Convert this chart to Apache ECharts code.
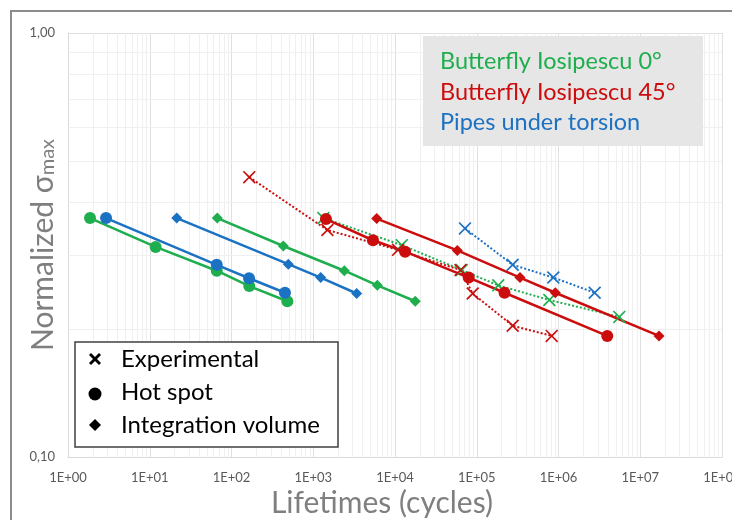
<!DOCTYPE html>
<html>
<head>
<meta charset="utf-8">
<script src="https://cdn.jsdelivr.net/npm/echarts@6/dist/echarts.min.js"></script>
<style>
  html, body { margin: 0; padding: 0; background: #ffffff; }
  #chart { width: 732px; height: 520px; }
</style>
</head>
<body>
<div id="chart"></div>
<script>
// Fatigue results: lifetime (cycles) against normalized max stress.
// Each pair is [cycles, normalized sigma_max].
const green0HotSpot   = [[1.86, 0.366], [11.8, 0.313], [66, 0.275], [165, 0.253], [482, 0.233]];
const green0Volume    = [[67, 0.366], [430, 0.3145], [2400, 0.275], [6080, 0.254], [17700, 0.233]];
const green0Exp       = [[1330, 0.366], [12100, 0.316], [65500, 0.276], [183500, 0.254], [772000, 0.2346], [5540000, 0.214]];

const red45HotSpot    = [[1430, 0.364], [5380, 0.3245], [13300, 0.305], [79700, 0.265], [218500, 0.244], [3950000, 0.193]];
const red45Volume     = [[5970, 0.365], [57800, 0.307], [338000, 0.265], [914000, 0.244], [16960000, 0.193]];
const red45Exp        = [[165, 0.457], [1490, 0.343], [10900, 0.308], [63300, 0.276], [89200, 0.243], [275000, 0.204], [826000, 0.193]];

const pipesHotSpot    = [[2.92, 0.366], [66, 0.284], [164, 0.264], [451, 0.244]];
const pipesVolume     = [[21.4, 0.366], [495, 0.285], [1233, 0.265], [3400, 0.243]];
const pipesExp        = [[71800, 0.346], [275000, 0.284], [864000, 0.265], [2770000, 0.244]];

const xTickLabels = ['1E+00', '1E+01', '1E+02', '1E+03', '1E+04', '1E+05', '1E+06', '1E+07', '1E+08'];
const yTickLabels = ['0,10', '1,00'];

const seriesNames = ['Butterfly Iosipescu 0°', 'Butterfly Iosipescu 45°', 'Pipes under torsion'];
const markerNames = ['Experimental', 'Hot spot', 'Integration volume'];

const GREEN = '#1eae4e';
const RED = '#cc0d0d';
const BLUE = '#1c72c2';
const FONT = 'Lato, "Open Sans", sans-serif';

// Cross marker as a filled outline so it renders with a single fill colour.
const CROSS = 'path://M0,9L9,0L50,41L91,0L100,9L59,50L100,91L91,100L50,59L9,100L0,91L41,50Z';

// Minor gridline positions (2..9 within each decade).
const xMinor = [];
for (let d = 0; d < 8; d++) for (let m = 2; m <= 9; m++) xMinor.push(m * Math.pow(10, d));
const yMinor = [0.2, 0.3, 0.4, 0.5, 0.6, 0.7, 0.8, 0.9];

function solid(name, data, color, symbol, size) {
  return {
    name, type: 'line', data, symbol, symbolSize: size, z: 3,
    lineStyle: { color, width: 2.5, type: 'solid' },
    itemStyle: { color },
    animation: false
  };
}
function dotted(name, data, color) {
  return {
    name, type: 'line', data, symbol: CROSS, symbolSize: 13, z: 3,
    lineStyle: { color, width: 2, type: [2, 2] },
    itemStyle: { color },
    animation: false
  };
}

// small cross for the marker key, centred on (cx, cy)
function crossPoints(cx, cy, h, t) {
  return [
    [cx - h, cy - h + t], [cx - h + t, cy - h], [cx, cy - t], [cx + h - t, cy - h], [cx + h, cy - h + t],
    [cx + t, cy], [cx + h, cy + h - t], [cx + h - t, cy + h], [cx, cy + t], [cx - h + t, cy + h],
    [cx - h, cy + h - t], [cx - t, cy]
  ];
}

function keyText(x, y, text, color, size) {
  return { type: 'text', silent: true, z: 11, x, y,
    style: { text, fill: color, font: size + 'px ' + FONT, verticalAlign: 'middle' } };
}

const chart = echarts.init(document.getElementById('chart'), null, { renderer: 'canvas' });

chart.setOption({
  animation: false,
  backgroundColor: '#ffffff',
  grid: { left: 68, right: 10, top: 33, bottom: 63, containLabel: false, outerBoundsMode: 'none' },
  xAxis: {
    type: 'log', logBase: 10, min: 1, max: 1e8,
    name: 'Lifetimes (cycles)', nameLocation: 'middle', nameGap: 31, nameMoveOverlap: false,
    nameTextStyle: { color: '#7f7f7f', fontSize: 30, fontFamily: FONT, verticalAlign: 'top', padding: [0, 26, 0, 0] },
    axisLine: { show: true, lineStyle: { color: '#d9d9d9', width: 1 } },
    axisTick: { show: false },
    axisLabel: {
      color: '#595959', fontSize: 13, fontFamily: FONT, margin: 14,
      formatter: v => xTickLabels[Math.round(Math.log10(v))]
    },
    splitLine: { show: true, lineStyle: { color: '#e0e0e0', width: 1 } }
  },
  yAxis: {
    type: 'log', logBase: 10, min: 0.1, max: 1,
    name: '{a|Normalized σ}{b|max}', nameLocation: 'middle', nameGap: 10, nameRotate: 90, nameMoveOverlap: false,
    nameTextStyle: {
      color: '#7f7f7f', fontSize: 30, fontFamily: FONT,
      rich: {
        a: { color: '#7f7f7f', fontSize: 30, fontFamily: FONT, lineHeight: 36, verticalAlign: 'bottom' },
        b: { color: '#7f7f7f', fontSize: 20, fontFamily: FONT, lineHeight: 36, verticalAlign: 'bottom', padding: [14, 0, 0, 0] }
      }
    },
    axisLine: { show: true, lineStyle: { color: '#d9d9d9', width: 1 } },
    axisTick: { show: false },
    axisLabel: {
      color: '#595959', fontSize: 13, fontFamily: FONT, margin: 13,
      formatter: v => (v < 0.5 ? yTickLabels[0] : yTickLabels[1])
    },
    splitLine: { show: true, lineStyle: { color: '#e0e0e0', width: 1 } }
  },
  series: [
    {
      type: 'custom', name: 'minor grid', z: 1, silent: true,
      data: xMinor.map(v => [v, 0]).concat(yMinor.map(v => [v, 1])),
      renderItem: (params, api) => {
        const v = api.value(0);
        const isX = api.value(1) === 0;
        const p1 = isX ? api.coord([v, 0.1]) : api.coord([1, v]);
        const p2 = isX ? api.coord([v, 1]) : api.coord([1e8, v]);
        return {
          type: 'line',
          shape: { x1: Math.round(p1[0]) + 0.5, y1: Math.round(p1[1]) + 0.5, x2: Math.round(p2[0]) + 0.5, y2: Math.round(p2[1]) + 0.5 },
          style: { stroke: '#f0f0f0', lineWidth: 1 }
        };
      },
      animation: false
    },
    solid(seriesNames[0] + ' ' + markerNames[1], green0HotSpot, GREEN, 'circle', 12),
    solid(seriesNames[2] + ' ' + markerNames[1], pipesHotSpot, BLUE, 'circle', 12),
    solid(seriesNames[2] + ' ' + markerNames[2], pipesVolume, BLUE, 'diamond', 11),
    solid(seriesNames[0] + ' ' + markerNames[2], green0Volume, GREEN, 'diamond', 11),
    dotted(seriesNames[2] + ' ' + markerNames[0], pipesExp, BLUE),
    dotted(seriesNames[0] + ' ' + markerNames[0], green0Exp, GREEN),
    dotted(seriesNames[1] + ' ' + markerNames[0], red45Exp, RED),
    solid(seriesNames[1] + ' ' + markerNames[1], red45HotSpot, RED, 'circle', 12),
    solid(seriesNames[1] + ' ' + markerNames[2], red45Volume, RED, 'diamond', 11)
  ],
  graphic: [
    // outer chart frame
    { type: 'rect', silent: true, z: 0, shape: { x: 11, y: 11, width: 740, height: 540 },
      style: { fill: 'none', stroke: '#8c8c8c', lineWidth: 2 } },
    // colour key, top right
    { type: 'rect', silent: true, z: 10, shape: { x: 423, y: 36, width: 280, height: 110 },
      style: { fill: '#e7e6e6' } },
    keyText(440, 61, seriesNames[0], GREEN, 23.5),
    keyText(440, 92, seriesNames[1], RED, 23.5),
    keyText(440, 122, seriesNames[2], BLUE, 23.5),
    // marker key, bottom left
    { type: 'rect', silent: true, z: 10, shape: { x: 75, y: 342, width: 263, height: 105 },
      style: { fill: '#ffffff', stroke: '#404040', lineWidth: 1.5 } },
    { type: 'polygon', silent: true, z: 11, shape: { points: crossPoints(95, 359, 6, 2) }, style: { fill: '#000000' } },
    { type: 'circle', silent: true, z: 11, shape: { cx: 95, cy: 394, r: 6.5 }, style: { fill: '#000000' } },
    { type: 'polygon', silent: true, z: 11, shape: { points: [[95, 419], [101, 425], [95, 431], [89, 425]] }, style: { fill: '#000000' } },
    keyText(121, 359, markerNames[0], '#000000', 24),
    keyText(121, 392, markerNames[1], '#000000', 24),
    keyText(121, 425, markerNames[2], '#000000', 24)
  ]
});
</script>
</body>
</html>
